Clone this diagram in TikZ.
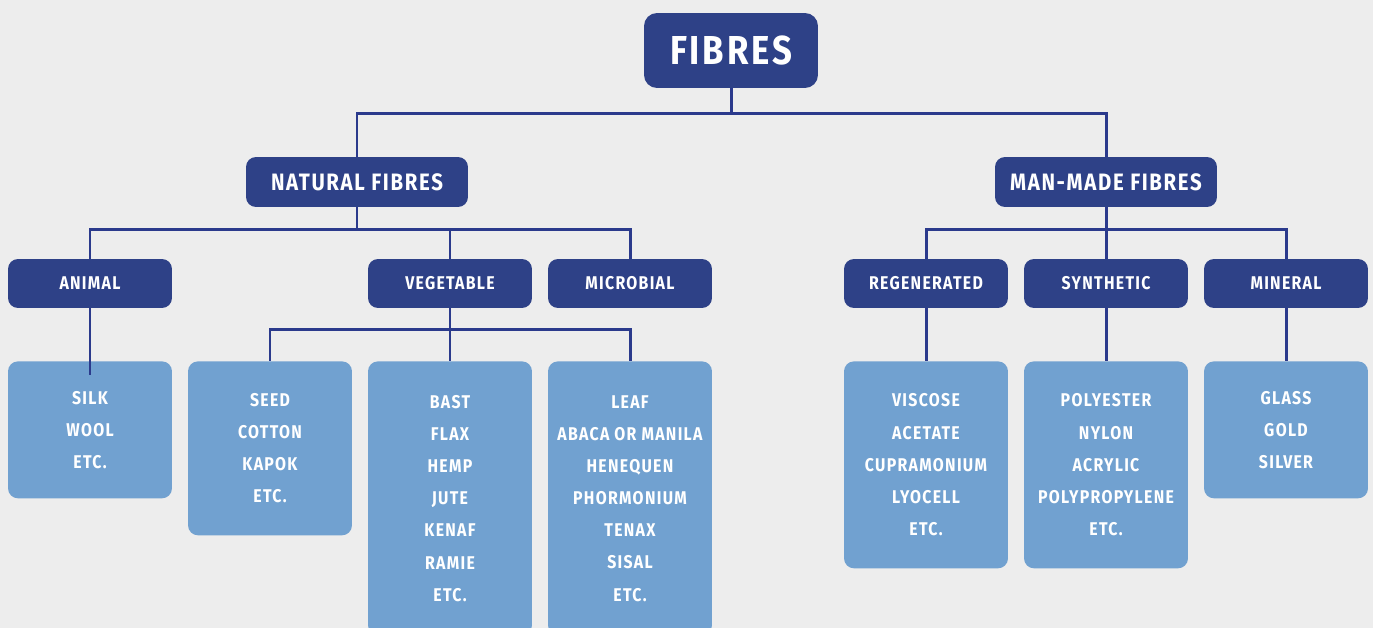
\documentclass[tikz,border=0pt]{standalone}
\usepackage{fontspec}
\setmainfont{Fira Sans}
\newfontfamily\chartfont[FakeStretch=0.86,LetterSpace=7]{Fira Sans}
\usepackage{tikz}
\usetikzlibrary{positioning}
\definecolor{navy}{HTML}{2E4187}
\definecolor{sky}{HTML}{71A1D0}
\definecolor{paper}{HTML}{EDEDED}
\definecolor{wire}{HTML}{2B3A8C}
\tikzstyle{rootbox} = [fill=navy, text=white, rounded corners=0.26cm, minimum width=3.48cm, minimum height=1.5cm, inner sep=0pt, font=\chartfont\bfseries\fontsize{23}{26}\selectfont]
\tikzstyle{mainbox} = [fill=navy, text=white, rounded corners=0.2cm, minimum width=4.44cm, minimum height=1.0cm, inner sep=0pt, font=\chartfont\bfseries\fontsize{13.5}{16}\selectfont]
\tikzstyle{classbox} = [fill=navy, text=white, rounded corners=0.2cm, minimum width=3.28cm, minimum height=0.98cm, inner sep=0pt, font=\chartfont\bfseries\fontsize{10.5}{13}\selectfont]
\tikzstyle{listbox} = [fill=sky, text=white, rounded corners=0.2cm, minimum width=3.28cm, anchor=north, inner sep=0pt, align=center, font=\chartfont\bfseries\fontsize{10.5}{18.3}\selectfont]
\tikzstyle{link} = [wire, line width=1.7pt]

\begin{document}
\begin{tikzpicture}[x=0.02cm, y=-0.02cm]
	\fill[paper] (0,0) rectangle (1373,628);
	\clip (0,0) rectangle (1373,628);
	% top level
	\node[rootbox] (fibres) at (731,50.5) {FIBRES};
	\node[mainbox] (natural) at (357,182) {NATURAL FIBRES};
	\node[mainbox] (manmade) at (1106,182) {MAN-MADE FIBRES};
	% classes
	\node[classbox] (animal) at (90,283.5) {ANIMAL};
	\node[classbox] (vegetable) at (450,283.5) {VEGETABLE};
	\node[classbox] (microbial) at (630,283.5) {MICROBIAL};
	\node[classbox] (regenerated) at (926,283.5) {REGENERATED};
	\node[classbox] (synthetic) at (1106,283.5) {SYNTHETIC};
	\node[classbox] (mineral) at (1286,283.5) {MINERAL};
	% lists
	\node[listbox, minimum height=2.74cm] (animallist) at (90,361) {SILK\\WOOL\\ETC.};
	\node[listbox, minimum height=3.48cm] (seedlist) at (270,361) {SEED\\COTTON\\KAPOK\\ETC.};
	\node[listbox, minimum height=5.48cm] (bastlist) at (450,361) {BAST\\FLAX\\HEMP\\JUTE\\KENAF\\RAMIE\\ETC.};
	\node[listbox, minimum height=5.48cm] (leaflist) at (630,361) {LEAF\\ABACA OR MANILA\\HENEQUEN\\PHORMONIUM\\TENAX\\SISAL\\ETC.};
	\node[listbox, minimum height=4.14cm] (regenlist) at (926,361) {VISCOSE\\ACETATE\\CUPRAMONIUM\\LYOCELL\\ETC.};
	\node[listbox, minimum height=4.14cm] (synthlist) at (1106,361) {POLYESTER\\NYLON\\ACRYLIC\\POLYPROPYLENE\\ETC.};
	\node[listbox, minimum height=2.74cm] (minerallist) at (1286,361) {GLASS\\GOLD\\SILVER};
	\coordinate (animalend) at (90,375);
	% connectors
	\draw[link] (fibres.south) -- ++(0,25) -| (natural.north);
	\draw[link] (fibres.south) -- ++(0,25) -| (manmade.north);
	\draw[link] (natural.south) -- ++(0,22) -| (animal.north);
	\draw[link] (natural.south) -- ++(0,22) -| (vegetable.north);
	\draw[link] (natural.south) -- ++(0,22) -| (microbial.north);
	\draw[link] (manmade.south) -- ++(0,22) -| (regenerated.north);
	\draw[link] (manmade.south) -- ++(0,22) -| (synthetic.north);
	\draw[link] (manmade.south) -- ++(0,22) -| (mineral.north);
	\draw[link] (animal.south) -- (animalend);
	\draw[link] (vegetable.south) -- ++(0,21) -| (seedlist.north);
	\draw[link] (vegetable.south) -- (bastlist.north);
	\draw[link] (vegetable.south) -- ++(0,21) -| (leaflist.north);
	\draw[link] (regenerated.south) -- (regenlist.north);
	\draw[link] (synthetic.south) -- (synthlist.north);
	\draw[link] (mineral.south) -- (minerallist.north);
\end{tikzpicture}
\end{document}
